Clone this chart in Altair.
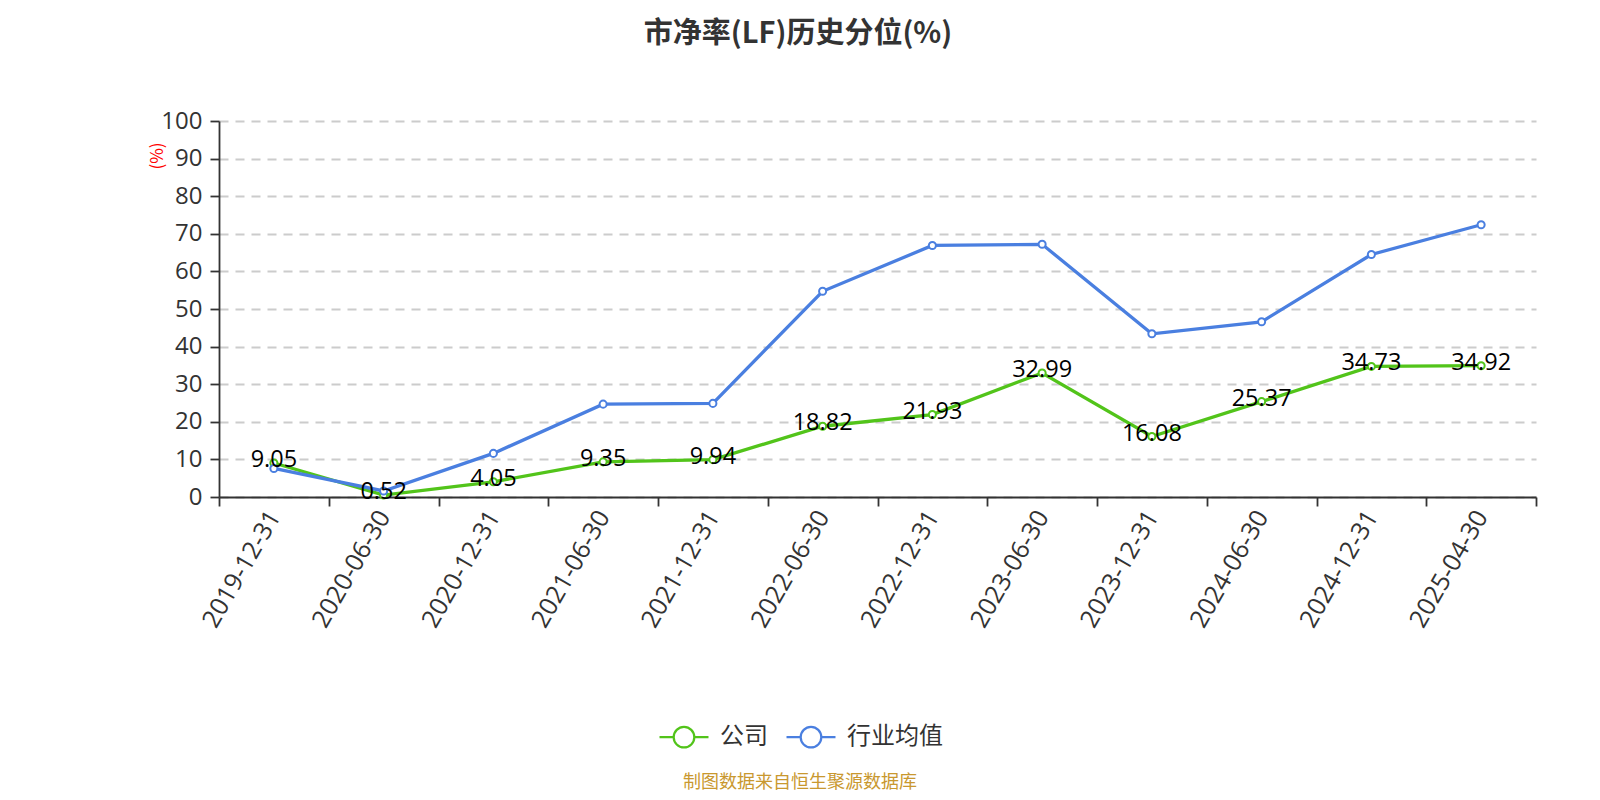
import altair as alt
import pandas as pd

categories = ["2019-12-31", "2020-06-30", "2020-12-31", "2021-06-30", "2021-12-31",
              "2022-06-30", "2022-12-31", "2023-06-30", "2023-12-31", "2024-06-30",
              "2024-12-31", "2025-04-30"]
company = [9.05, 0.52, 4.05, 9.35, 9.94, 18.82, 21.93, 32.99, 16.08, 25.37, 34.73, 34.92]
industry = [7.6, 1.6, 11.6, 24.7, 24.9, 54.7, 66.9, 67.2, 43.4, 46.6, 64.5, 72.4]
series_names = ["公司", "行业均值"]
series_colors = ["#52C41A", "#4A7FE0"]
title_text = "市净率(LF)历史分位(%)"
source_text = "制图数据来自恒生聚源数据库"

FONT = "Open Sans, Noto Sans CJK SC"
CJK = "Noto Sans CJK SC"

rows = []
for d, c, i in zip(categories, company, industry):
    rows.append({"date": d, "series": series_names[0], "value": c, "label": f"{c:.2f}"})
    rows.append({"date": d, "series": series_names[1], "value": i, "label": ""})
df = pd.DataFrame(rows)

legend_path = ("M-1,0L-0.42,0M0.42,0L1,0M0.42,0A0.42,0.42,0,1,1,-0.42,0"
               "A0.42,0.42,0,1,1,0.42,0Z")

x_enc = alt.X("date:N", sort=categories, bandPosition=0.5,
              scale=alt.Scale(type="band", paddingInner=0, paddingOuter=0),
              axis=alt.Axis(title=None, labelAngle=300, labelAlign="right",
                            labelBaseline="middle", labelFontSize=25, labelColor="#333",
                            labelFont=FONT, labelPadding=6, tickBand="extent",
                            domainColor="#333", domainWidth=1.8, tickColor="#333",
                            tickSize=9, tickWidth=1.8, grid=False))
y_enc = alt.Y("value:Q", scale=alt.Scale(domain=[0, 100], nice=False),
              axis=alt.Axis(values=list(range(0, 101, 10)), title="(%)", titleColor="red",
                            titleFontSize=17, titleFontWeight="normal", titleFont=CJK,
                            titleAngle=270, titleX=-61.5, titleY=34.5, titleAlign="center",
                            titleBaseline="middle", labelFontSize=24, labelColor="#333",
                            labelFont=FONT, labelPadding=8, domainColor="#333",
                            domainWidth=1.8, tickColor="#333", tickSize=9, tickWidth=1.8,
                            grid=True, gridColor="#cccccc", gridDash=[9, 7], gridWidth=1.8))
color_scale = alt.Scale(domain=series_names, range=series_colors)

base = alt.Chart(df)

lines = base.mark_line(strokeWidth=3.3).encode(
    x=x_enc, y=y_enc,
    color=alt.Color("series:N", scale=color_scale,
                    legend=alt.Legend(title=None, orient="none", direction="horizontal",
                                      legendX=439, legendY=590, symbolType=legend_path,
                                      symbolSize=2400, symbolStrokeWidth=2.2,
                                      symbolFillColor="white", labelFontSize=24,
                                      labelColor="#333", labelFont=CJK, labelOffset=10,
                                      columnPadding=14, padding=0)),
    detail="series:N",
)

points = base.mark_point(filled=False, fill="white", fillOpacity=1, opacity=1,
                         size=50, strokeWidth=2).encode(
    x=x_enc, y=y_enc,
    color=alt.Color("series:N", scale=color_scale, legend=None),
)

labels = base.transform_filter(alt.datum.series == series_names[0]).mark_text(
    fontSize=23.5, font=FONT, color="black", baseline="middle", dy=-3
).encode(x=x_enc, y=y_enc, text="label:N")

title = alt.Chart(pd.DataFrame({"t": [title_text]})).mark_text(
    fontSize=29, fontWeight="bold", font=CJK, color="#333", baseline="alphabetic",
    align="center"
).encode(text="t:N", x=alt.value(579), y=alt.value(-78))

source = alt.Chart(pd.DataFrame({"t": [source_text]})).mark_text(
    fontSize=18, font=CJK, color="#C9982F", baseline="middle", align="center"
).encode(text="t:N", x=alt.value(581), y=alt.value(662))

chart = alt.layer(lines, points, labels, title, source).properties(
    width=1317, height=376,
    padding={"left": 211, "top": 113, "right": 50, "bottom": 295},
    autosize=alt.AutoSizeParams(type="none"),
    background="white",
).configure_view(stroke=None)

chart.save("out.html", embed_options={"renderer": "svg", "actions": False})
